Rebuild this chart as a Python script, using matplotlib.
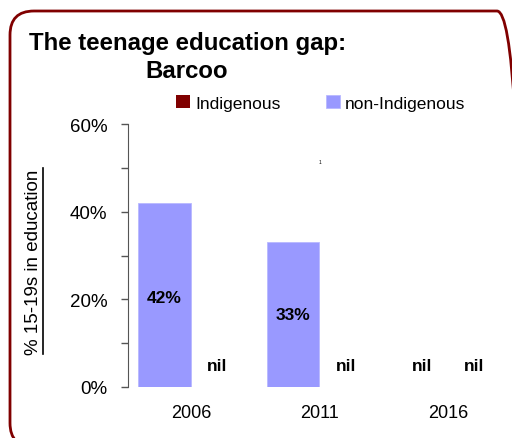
import matplotlib.pyplot as plt
from matplotlib.patches import FancyBboxPatch
from matplotlib.ticker import MultipleLocator, PercentFormatter
import numpy as np

# teenage education participation, Barcoo
years = ['2006', '2011', '2016']
non_indigenous = [42, 33, None]
indigenous = [None, None, None]

dark_red = '#800000'
lilac = '#9999FF'
plt.rcParams['font.family'] = ['Liberation Sans', 'DejaVu Sans']
narrow = ['Liberation Sans Narrow', 'Liberation Sans']

fig = plt.figure(figsize=(5.12, 4.39), dpi=100)

# rounded frame round the whole chart, drawn in pixel units
bg = fig.add_axes([0, 0, 1, 1])
bg.set_xlim(0, 512)
bg.set_ylim(0, 439)
bg.axis('off')
bg.add_patch(FancyBboxPatch((10, -9), 511, 436, boxstyle='round,pad=0,rounding_size=24',
                            fill=False, edgecolor=dark_red, linewidth=2))

fig.text(0.056, 0.902, 'The teenage education gap:', fontsize=17.3, fontweight='bold', va='center')
fig.text(0.364, 0.838, 'Barcoo', fontsize=17.3, fontweight='bold', va='center', ha='center')

ax = fig.add_axes([0.25, 0.1162, 0.748, 0.599])
x = np.arange(len(years))
w = 0.41
ni_vals = [v if v is not None else 0 for v in non_indigenous]
in_vals = [v if v is not None else 0 for v in indigenous]
ax.bar(x - w / 2, ni_vals, w, color=lilac, edgecolor='#b8b8ff', linewidth=0.6, label='non-Indigenous')
ax.bar(x + w / 2, in_vals, w, color=dark_red, label='Indigenous')

for i in range(len(years)):
    for off, v in ((-w / 2, non_indigenous[i]), (w / 2, indigenous[i])):
        if v is None:
            ax.text(x[i] + off, 4.8, 'nil', ha='center', va='center', fontsize=12.5, fontweight='bold')
        else:
            ax.text(x[i] + off, v / 2 - 0.5 if i == 0 else v / 2, '%d%%' % v, ha='center', va='center',
                    fontsize=12.5, fontweight='bold')

ax.text(1.0, 51.5, '1', fontsize=3.5, ha='center', va='center')

ax.set_xlim(-0.49, 2.49)
ax.set_ylim(0, 60)
ax.set_xticks(x)
ax.set_xticklabels(years, fontsize=13)
ax.tick_params(axis='x', length=0, pad=12)
ax.yaxis.set_major_locator(MultipleLocator(20))
ax.yaxis.set_minor_locator(MultipleLocator(10))
ax.yaxis.set_major_formatter(PercentFormatter(decimals=0))
ax.tick_params(axis='y', which='both', direction='out', length=5, width=1, color='#555555',
               labelsize=13.5, pad=10)
for s in ('top', 'right', 'bottom'):
    ax.spines[s].set_visible(False)
ax.spines['left'].set_color('#555555')

h, l = ax.get_legend_handles_labels()
fig.legend(h[::-1], l[::-1], loc='center', bbox_to_anchor=(0.627, 0.763), ncol=2, frameon=False,
           prop={'family': narrow, 'size': 12.5},
           handlelength=0.8, handleheight=0.8, handletextpad=0.3, columnspacing=2.6)

ylab = fig.text(0.066, 0.403, '% 15-19s in education', rotation=90, ha='center', va='center',
                fontsize=13.5, family=narrow)
fig.canvas.draw()
bb = ylab.get_window_extent().transformed(fig.transFigure.inverted())
fig.add_artist(plt.Line2D([bb.x1 + 0.002, bb.x1 + 0.002], [bb.y0, bb.y1], color='black', linewidth=1.2))

fig.savefig('out.png', dpi=100)
